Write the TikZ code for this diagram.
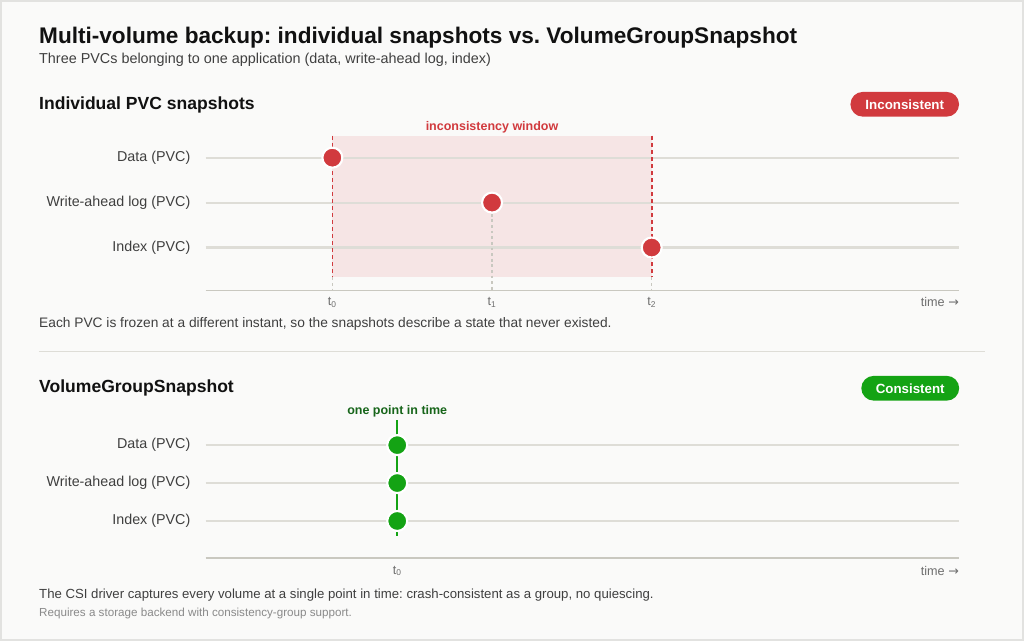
\documentclass[tikz,border=0pt]{standalone}
\usepackage{fontspec}
\setmainfont{Liberation Sans}
\newfontfamily\arrowfont{DejaVu Sans}
\usetikzlibrary{positioning}
\frenchspacing
\definecolor{paper}{HTML}{FAFAF9}
\definecolor{frame}{HTML}{E2E2E0}
\definecolor{ink}{HTML}{111111}
\definecolor{soft}{HTML}{3F3F3F}
\definecolor{mute}{HTML}{6E6E6E}
\definecolor{faint}{HTML}{8A8A8A}
\definecolor{rule}{HTML}{DEDDD7}
\definecolor{axis}{HTML}{C9C8C0}
\definecolor{bad}{HTML}{D13A3E}
\definecolor{badfill}{HTML}{F6E5E5}
\definecolor{good}{HTML}{14A314}
\definecolor{goodtext}{HTML}{17651A}

\begin{document}
\begin{tikzpicture}[x=0.025cm,y=-0.025cm,
  lbl/.style={anchor=east,inner sep=0pt,text=soft,font=\fontsize{10.2}{12}\selectfont},
  lane/.style={draw=rule,line width=1.5pt},
  axisline/.style={draw=axis,line width=1.2pt},
  tick/.style={inner sep=0pt,text=mute,font=\fontsize{9}{10}\selectfont},
  dot/.style={circle,draw=white,line width=1.5pt,minimum size=0.5cm,inner sep=0pt},
  badge/.style={rounded corners=0.31cm,text=white,minimum height=0.62cm,inner sep=0pt,font=\bfseries\fontsize{9.5}{11}\selectfont},
  caption/.style={anchor=base west,inner sep=0pt,text=soft,font=\fontsize{9.6}{11}\selectfont},
  head/.style={anchor=base west,inner sep=0pt,text=ink,font=\bfseries\fontsize{12.5}{15}\selectfont},
  marker/.style={inner sep=0pt,font=\bfseries\fontsize{8.9}{10}\selectfont}]
\fill [paper] (0,0) rectangle (1024,640);
\draw [frame, line width=1.4pt] (0,0) rectangle (1024,640);
\node [anchor=base west, inner sep=0pt, text=ink, font=\bfseries\fontsize{16.1}{19}\selectfont] (title) at (38,43) {Multi-volume backup: individual snapshots vs. VolumeGroupSnapshot};
\node [caption, font=\fontsize{10.25}{12}\selectfont] (sub) at (38,62.5) {Three PVCs belonging to one application (data, write-ahead log, index)};

% individual snapshots
\node [head] (h1) at (38,108.5) {Individual PVC snapshots};
\node [badge, fill=bad, minimum width=2.72cm] (b1) at (905.5,103.5) {Inconsistent};
\fill [badfill] (332,135) rectangle (652,277);
\node [marker, text=bad] (win) at (492,127) {inconsistency window};
\foreach \y/\t/\n in {157/Data (PVC)/ra, 202/Write-ahead log (PVC)/rb, 247/Index (PVC)/rc} {
  \node [lbl] (\n) at (190,\y) {\t};
  \draw [lane] (205,\y) -- (960,\y);
}
\draw [bad, line width=1.1pt, dash pattern=on 3pt off 2pt] (332,135) -- (332,277);
\draw [bad, line width=1.1pt, dash pattern=on 3pt off 2pt] (652,135) -- (652,277);
\draw [axis, line width=0.8pt, dash pattern=on 2pt off 2pt] (332,277) -- (332,290);
\draw [axis, line width=0.8pt, dash pattern=on 2pt off 2pt] (492,202) -- (492,290);
\draw [axis, line width=0.8pt, dash pattern=on 2pt off 2pt] (652,277) -- (652,290);
\draw [axisline] (205,290) -- (960,290);
\node [dot, fill=bad] (pa) at (332,157) {};
\node [dot, fill=bad] (pb) at (492,202) {};
\node [dot, fill=bad] (pc) at (652,247) {};
\node [tick] (t0) at (332,302) {t\textsubscript{0}};
\node [tick] (t1) at (492,302) {t\textsubscript{1}};
\node [tick] (t2) at (652,302) {t\textsubscript{2}};
\node [tick, anchor=east] (time1) at (960,302) {time {\arrowfont →}};
\node [caption, font=\fontsize{9.8}{11}\selectfont] (c1) at (38,327) {Each PVC is frozen at a different instant, so the snapshots describe a state that never existed.};
\draw [rule, line width=1.1pt] (38,351) -- (986,351);

% group snapshot
\node [head] (h2) at (38,392.5) {VolumeGroupSnapshot};
\node [badge, fill=good, minimum width=2.45cm] (b2) at (911,388) {Consistent};
\node [marker, text=goodtext] (one) at (397,411) {one point in time};
\foreach \y/\t/\n in {445/Data (PVC)/ga, 483/Write-ahead log (PVC)/gb, 521/Index (PVC)/gc} {
  \node [lbl] (\n) at (190,\y) {\t};
  \draw [lane] (205,\y) -- (960,\y);
}
\draw [good, line width=1.8pt] (397,420) -- (397,536);
\draw [axisline] (205,558) -- (960,558);
\node [dot, fill=good] (qa) at (397,445) {};
\node [dot, fill=good] (qb) at (397,483) {};
\node [dot, fill=good] (qc) at (397,521) {};
\node [tick] (s0) at (397,571) {t\textsubscript{0}};
\node [tick, anchor=east] (time2) at (960,571) {time {\arrowfont →}};
\node [caption, font=\fontsize{9.4}{11}\selectfont] (c2) at (38,598.5) {The CSI driver captures every volume at a single point in time: crash-consistent as a group, no quiescing.};
\node [anchor=base west, inner sep=0pt, text=faint, font=\fontsize{8.3}{10}\selectfont] (note) at (38,617) {Requires a storage backend with consistency-group support.};
\end{tikzpicture}
\end{document}
